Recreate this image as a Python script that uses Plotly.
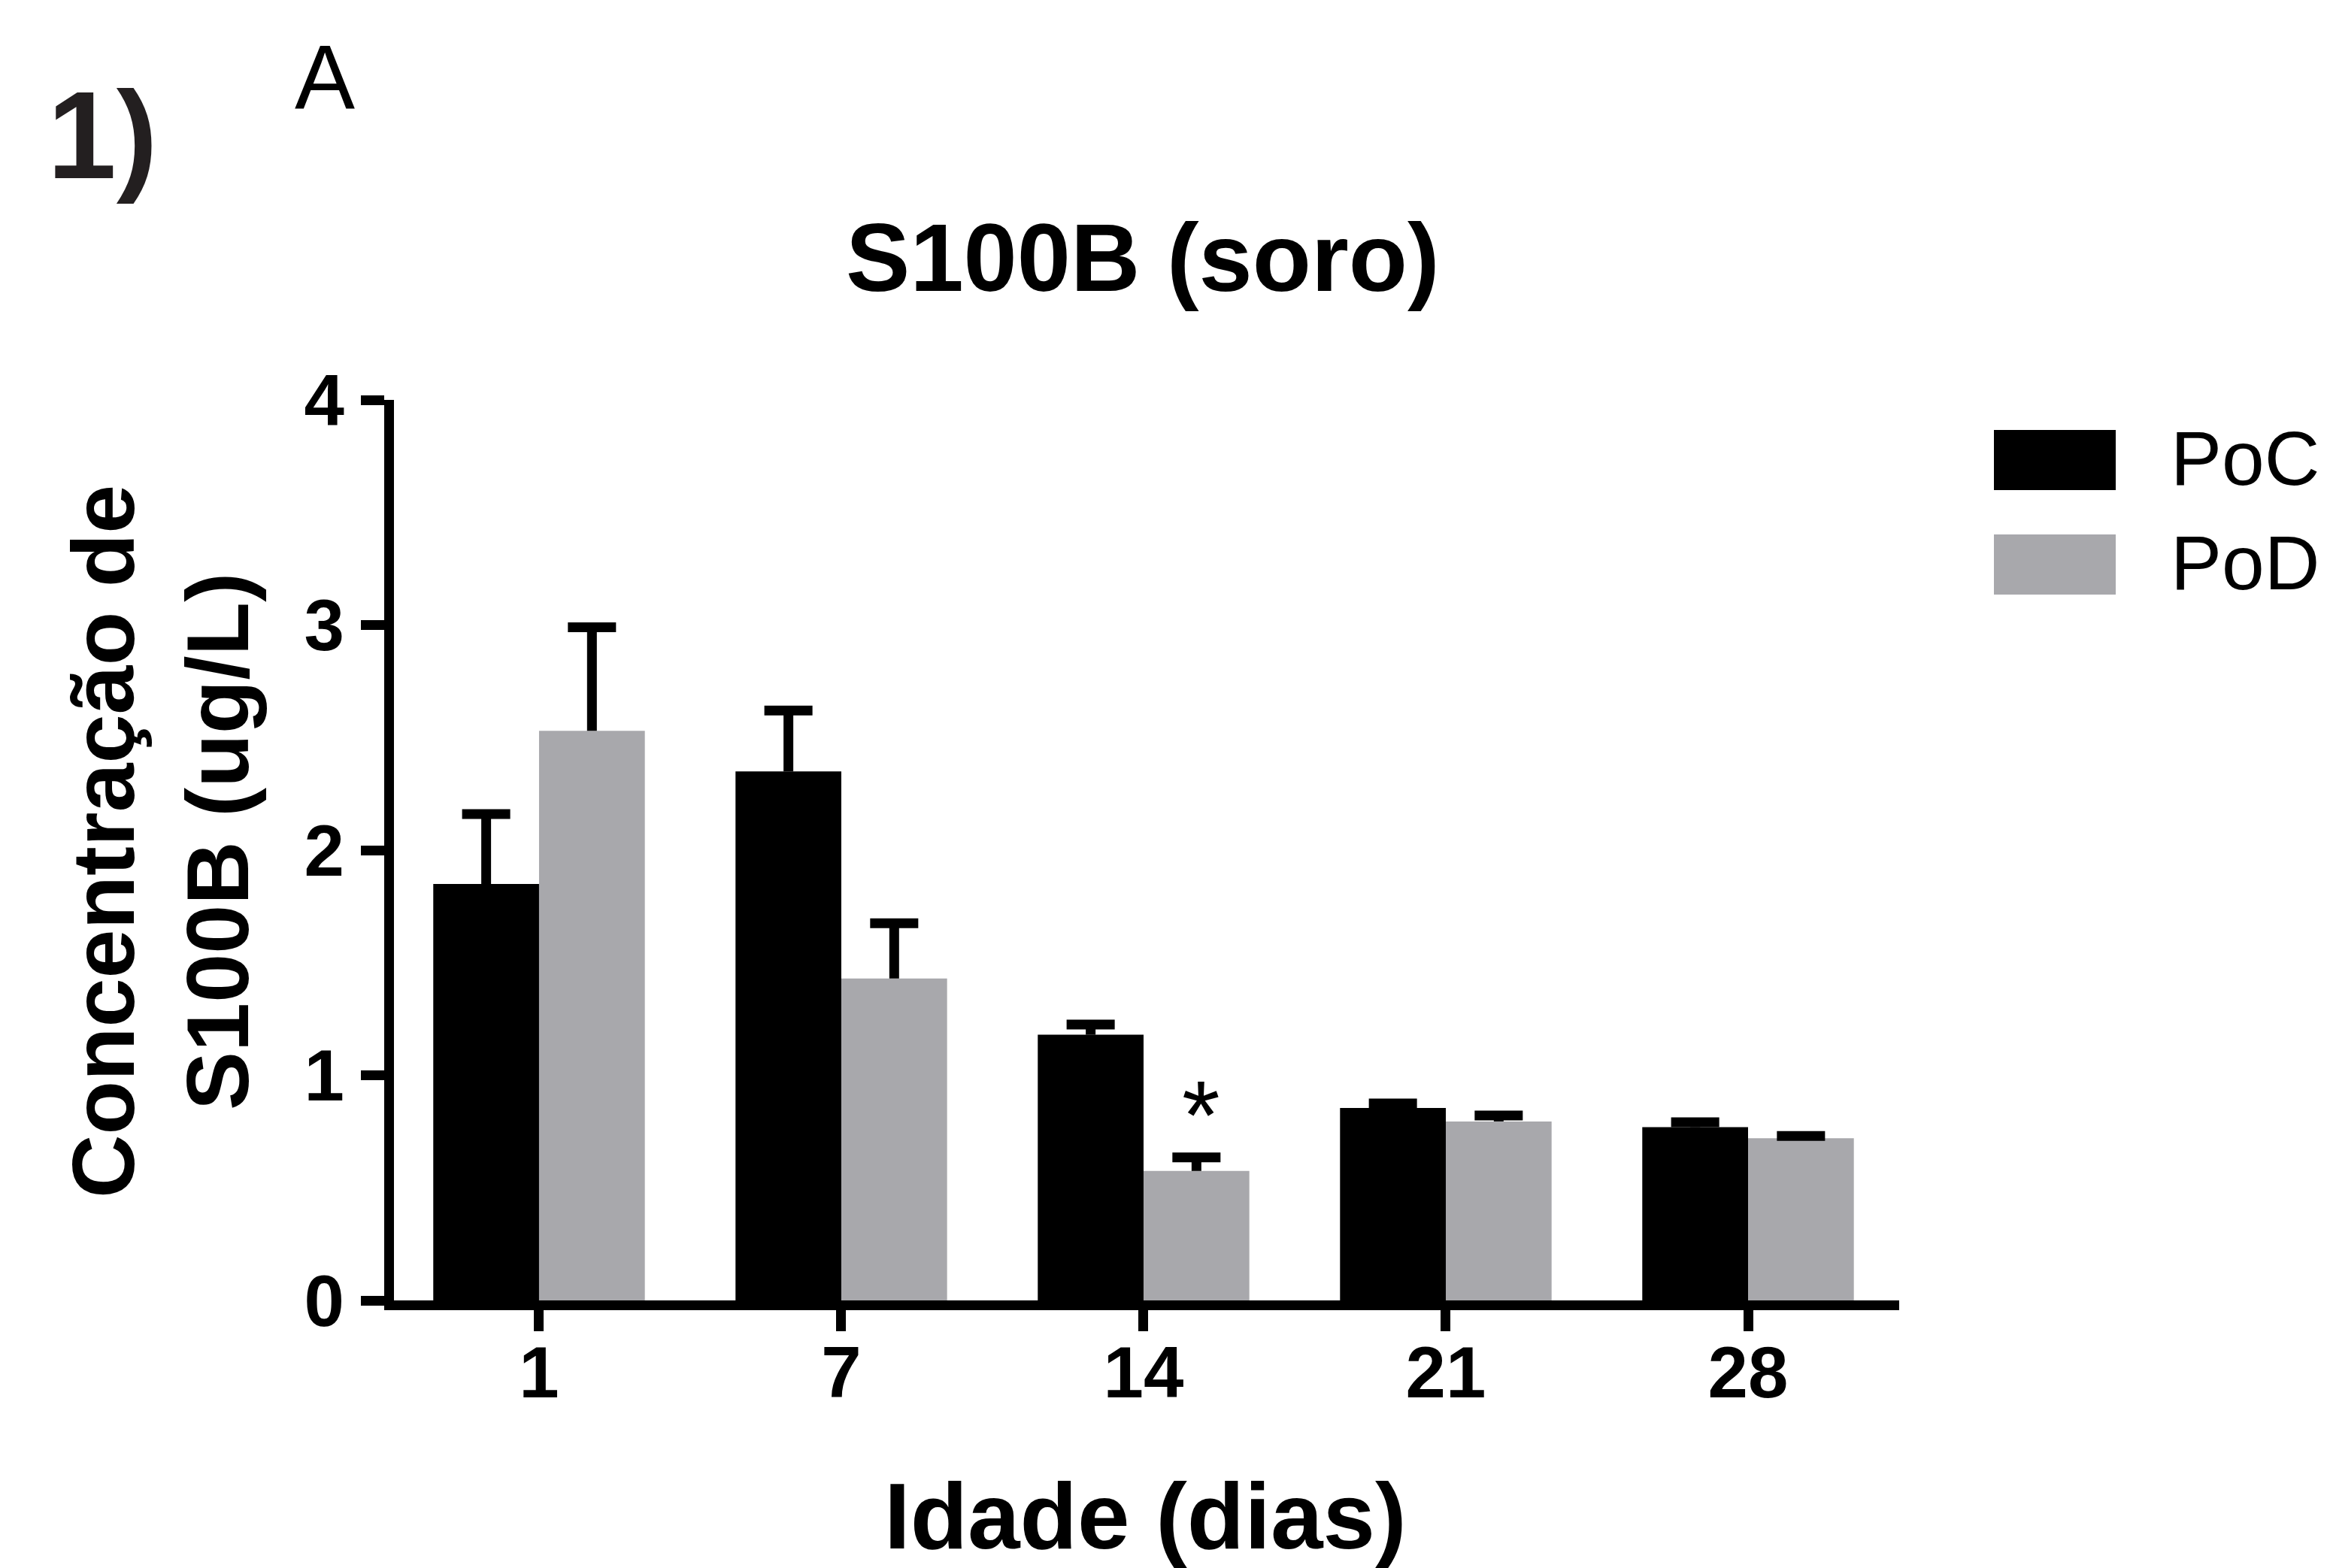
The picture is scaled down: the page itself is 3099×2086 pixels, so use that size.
import plotly.graph_objects as go

# ---- data ----
days = ["1", "7", "14", "21", "28"]
series_names = ["PoC", "PoD"]
poc_mean = [1.85, 2.35, 1.18, 0.855, 0.77]
poc_sem = [0.31, 0.27, 0.045, 0.02, 0.021]
pod_mean = [2.53, 1.43, 0.575, 0.795, 0.72]
pod_sem = [0.46, 0.245, 0.06, 0.026, 0.01]
y_ticks = [0, 1, 2, 3, 4]

# ---- styling ----
W, H = 3099, 2086
L, R, T, B = 516, 2518, 524, 1722
PW, PH = R - L, B - T
FONT = "Liberation Sans, Arial, Helvetica, sans-serif"
C_POC = "#000000"
C_POD = "#a8a8ac"


def px_x(p):
    return (p - L) / PW


def px_y(p):
    return (B - p) / PH


fig = go.Figure()
means = [poc_mean, pod_mean]
sems = [poc_sem, pod_sem]
colors = [C_POC, C_POD]
# visible bars with upward error stems (no caps)
for name, m, s, col in zip(series_names, means, sems, colors):
    fig.add_trace(go.Bar(
        x=days, y=m, name=name, offsetgroup=name,
        marker=dict(color=col, line=dict(width=0)),
        error_y=dict(type="data", array=s, arrayminus=[0] * len(s), symmetric=False,
                     color="#000000", thickness=13, width=0),
    ))
# error-bar caps at mean + sem (transparent carrier bars in the same offset group)
for name, m, s in zip(series_names, means, sems):
    tops = [a + b for a, b in zip(m, s)]
    fig.add_trace(go.Bar(
        x=days, y=tops, name=name + " cap", offsetgroup=name, showlegend=False, hoverinfo="skip",
        marker=dict(color="rgba(0,0,0,0)", line=dict(width=0)),
        error_y=dict(type="data", array=[0] * len(tops), color="#000000", thickness=13, width=32),
    ))

fig.update_layout(
    width=W, height=H, autosize=False,
    margin=dict(l=L, r=W - R, t=T, b=H - B, pad=0),
    paper_bgcolor="white", plot_bgcolor="white",
    barmode="group", bargap=0.3, bargroupgap=0,
    showlegend=False,
    font=dict(family=FONT, color="#000000"),
)
fig.update_xaxes(
    type="category", range=[-0.48, 4.5], showline=True, linecolor="#000000", linewidth=13,
    ticks="outside", ticklen=28, tickwidth=13, tickcolor="#000000", ticklabelstandoff=-27,
    tickfont=dict(family=FONT, size=96, color="#000000", weight="bold"),
    showgrid=False, zeroline=False, fixedrange=True,
)
fig.update_yaxes(
    range=[0, 4], tickvals=y_ticks, ticktext=[str(v) for v in y_ticks],
    showline=True, linecolor="#000000", linewidth=13,
    ticks="outside", ticklen=31, tickwidth=13, tickcolor="#000000", ticklabelstandoff=3,
    tickfont=dict(family=FONT, size=96, color="#000000", weight="bold"),
    showgrid=False, zeroline=False, fixedrange=True,
)

ann = []
# panel labels
ann.append(dict(text="1)", x=px_x(128), y=px_y(172), xref="paper", yref="paper", showarrow=False,
                xanchor="center", yanchor="middle",
                font=dict(family=FONT, size=165, color="#231f20", weight="bold")))
ann.append(dict(text="A", x=px_x(424), y=px_y(94), xref="paper", yref="paper", showarrow=False,
                xanchor="center", yanchor="middle", font=dict(family=FONT, size=120, color="#000000")))
# title
ann.append(dict(text="<b>S100B (soro)</b>", x=px_x(1512), y=px_y(334), xref="paper", yref="paper",
                showarrow=False, xanchor="center", yanchor="middle",
                font=dict(family=FONT, size=128, color="#000000")))
# x title
ann.append(dict(text="<b>Idade (dias)</b>", x=px_x(1515), y=px_y(2008), xref="paper", yref="paper",
                showarrow=False, xanchor="center", yanchor="middle",
                font=dict(family=FONT, size=125, color="#000000")))
# y title
ann.append(dict(text="<b>Concentração de<br>S100B (ug/L)</b>", x=px_x(205), y=px_y(1112), xref="paper",
                yref="paper", showarrow=False, xanchor="center", yanchor="middle", textangle=-90,
                font=dict(family=FONT, size=117, color="#000000")))
# significance asterisk above PoD day 14
ann.append(dict(text="*", x=2.19, y=0.82, xref="x", yref="y", showarrow=False,
                xanchor="center", yanchor="middle", font=dict(family=FONT, size=130, color="#000000")))

# legend (manual, large swatches)
shapes = []
for i, (name, col) in enumerate(zip(series_names, colors)):
    y0 = 564 + i * 139
    shapes.append(dict(type="rect", xref="paper", yref="paper", x0=px_x(2644), x1=px_x(2806),
                       y0=px_y(y0 + 80), y1=px_y(y0), fillcolor=col, line=dict(width=0), layer="above"))
    ann.append(dict(text=name, x=px_x(2877), y=px_y(y0 + 38), xref="paper", yref="paper", showarrow=False,
                    xanchor="left", yanchor="middle", font=dict(family=FONT, size=102, color="#000000")))

fig.update_layout(annotations=ann, shapes=shapes)
fig.write_html("out.html")
